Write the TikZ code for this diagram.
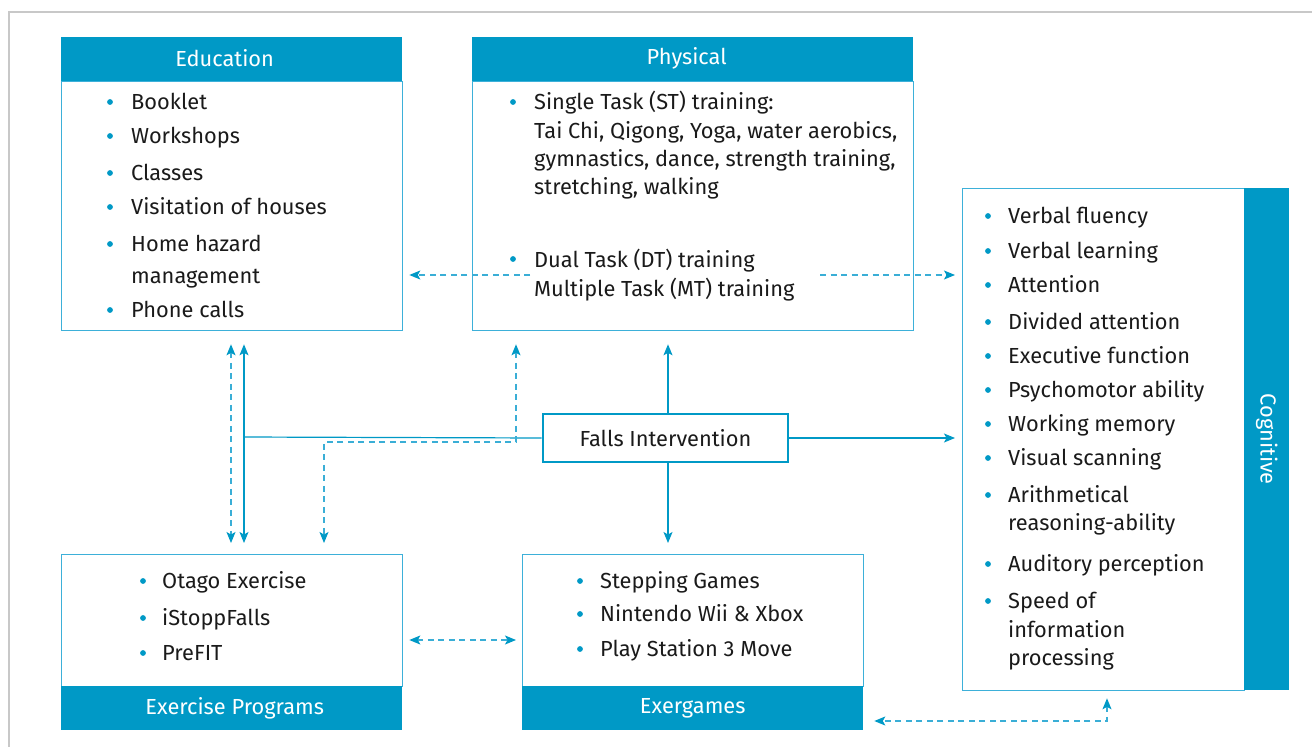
\documentclass[tikz,border=0pt]{standalone}
\usepackage{fontspec}
\setmainfont{Fira Sans}
\usetikzlibrary{arrows.meta,calc}
\definecolor{eublue}{HTML}{0099C6}
\definecolor{boxline}{HTML}{3DB0D9}
\definecolor{dashblue}{HTML}{3AAED6}
\definecolor{inktext}{HTML}{1A1A1A}
\definecolor{framegray}{HTML}{C8C8C8}
\newcommand\bul[2]{\fill[eublue] (#1,#2) circle (2.9pt);}
\begin{document}
\begin{tikzpicture}[x=1pt,y=-1pt,
  font=\fontsize{21.8}{26}\selectfont,
  >={Stealth[length=11pt,width=9pt,inset=2.5pt,color=eublue]},
  panel/.style={draw=boxline, line width=1.3pt, anchor=north west, inner sep=0pt, fill=white},
  head/.style={fill=eublue, anchor=north west, inner sep=0pt, text=white},
  item/.style={anchor=west, inner sep=0pt, text=inktext, text height=17pt, text depth=2pt},
  conn/.style={draw=eublue, line width=1.2pt},
  dconn/.style={draw=dashblue, line width=1.2pt, dash pattern=on 6pt off 4.5pt}]

\fill[white] (0,0) rectangle (1312,747);
\useasboundingbox (0,0) rectangle (1312,747);
\draw[framegray, line width=1.5pt] (9,747) -- (9,12) -- (1312,12);

% panels and their title bars
\node[head, minimum width=341pt, minimum height=44pt] (eduH) at (61,37) {};
\node[text=white, inner sep=0pt] (eduT) at ([xshift=-7pt,yshift=1pt]eduH.center) {Education};
\node[panel, minimum width=341pt, minimum height=249pt] (edu) at (61,81) {};
\node[head, minimum width=441pt, minimum height=44pt] (physH) at (472,37) {};
\node[text=white, inner sep=0pt] (physT) at ([xshift=-6pt,yshift=1pt]physH.center) {Physical};
\node[panel, minimum width=441pt, minimum height=249pt] (phys) at (472,81) {};
\node[panel, minimum width=282pt, minimum height=502pt] (cog) at (962,188) {};
\node[head, minimum width=45pt, minimum height=502pt] (cogH) at (1244,188) {};
\node[text=white, rotate=-90, inner sep=0pt] (cogT) at (cogH.center) {Cognitive};
\node[panel, minimum width=341pt, minimum height=132pt] (prog) at (61,554) {};
\node[head, minimum width=341pt, minimum height=44pt] (progH) at (61,686) {};
\node[text=white, inner sep=0pt] (progT) at ([xshift=3pt]progH.center) {Exercise Programs};
\node[panel, minimum width=341pt, minimum height=132pt] (exg) at (522,554) {};
\node[head, minimum width=341pt, minimum height=44pt] (exgH) at (522,686) {Exergames};
\node[draw=eublue, line width=2.8pt, minimum width=245pt, minimum height=48pt, inner sep=0pt,
      text=inktext] (falls) at (665.5,438) {Falls Intervention};

% Education
\bul{110}{102}\node[item] (e1) at (131,102) {Booklet};
\bul{110}{136}\node[item] (e2) at (131,136) {Workshops};
\bul{110}{173}\node[item] (e3) at (131,173) {Classes};
\bul{110}{207}\node[item] (e4) at (131,207) {Visitation of houses};
\bul{110}{244}\node[item] (e5) at (131,244) {Home hazard};
\node[item] (e5b) at (131,276) {management};
\bul{110}{310}\node[item] (e6) at (131,310) {Phone calls};

% Physical
\bul{513}{102}\node[item] (p1) at (534,102) {Single Task (ST) training:};
\node[item] (p1b) at (534,131) {Tai Chi, Qigong, Yoga, water aerobics,};
\node[item] (p1c) at (534,159) {gymnastics, dance, strength training,};
\node[item] (p1d) at (534,187) {stretching, walking};
\bul{513}{259}\node[item] (p2) at (534,260) {Dual Task (DT) training};
\node[item] (p2b) at (534,289) {Multiple Task (MT) training};

% Cognitive
\bul{988}{216}\node[item] (c1) at (1008,216) {Verbal fluency};
\bul{988}{251}\node[item] (c2) at (1008,251) {Verbal learning};
\bul{988}{285}\node[item] (c3) at (1008,285) {Attention};
\bul{988}{322}\node[item] (c4) at (1008,322) {Divided attention};
\bul{988}{356}\node[item] (c5) at (1008,356) {Executive function};
\bul{988}{390}\node[item] (c6) at (1008,390) {Psychomotor ability};
\bul{988}{424}\node[item] (c7) at (1008,424) {Working memory};
\bul{988}{458}\node[item] (c8) at (1008,458) {Visual scanning};
\bul{988}{495}\node[item] (c9) at (1008,495) {Arithmetical};
\node[item] (c9b) at (1008,523) {reasoning-ability};
\bul{988}{564}\node[item] (c10) at (1008,564) {Auditory perception};
\bul{988}{601}\node[item] (c11) at (1008,601) {Speed of};
\node[item] (c11b) at (1008,630) {information};
\node[item] (c11c) at (1008,658) {processing};

% Exercise programs
\bul{143}{581}\node[item] (x1) at (162,581) {Otago Exercise};
\bul{143}{618}\node[item] (x2) at (162,618) {iStoppFalls};
\bul{143}{653}\node[item] (x3) at (162,653) {PreFIT};

% Exergames
\bul{580}{581}\node[item] (g1) at (600,581) {Stepping Games};
\bul{580}{614}\node[item] (g2) at (600,614) {Nintendo Wii \& Xbox};
\bul{580}{649}\node[item] (g3) at (600,649) {Play Station 3 Move};

% connector anchors
\coordinate (jL) at (244,437);
\coordinate (dL) at (231,437);
\coordinate (kA) at (516,442);
\coordinate (kB) at (324,442);
\coordinate (dtL) at (530,275);
\coordinate (dtR) at (820,275);
\coordinate (bR) at (1107,721);

% solid connectors from the central node
\draw[conn, ->, shorten >=13pt] ([xshift=2.5pt]falls.north) -- ([xshift=2.5pt]falls.north |- phys.south);
\draw[conn, ->, shorten >=11pt] ([xshift=2.5pt]falls.south) -- ([xshift=2.5pt]falls.south |- exg.north);
\draw[conn, ->, shorten >=7pt] (falls.east) -- (falls.east -| cog.west);
\draw[conn] (falls.west) -- (jL);
\draw[conn, <->, shorten <=13pt, shorten >=11pt] (jL |- edu.south) -- (jL |- prog.north);

% dashed links
\draw[dconn, <->, shorten <=13pt, shorten >=11pt] (dL |- edu.south) -- (dL |- prog.north);
\draw[dconn, <->, shorten <=13pt, shorten >=11pt] (kA |- phys.south) -- (kA) -- (kB) -- (kB |- prog.north);
\draw[dconn, ->, shorten >=6pt] (dtL) -- (dtL -| edu.east);
\draw[dconn, ->, shorten >=7pt] (dtR) -- (dtR -| cog.west);
\draw[dconn, <->, shorten <=6pt, shorten >=6pt] (prog.east |- 0,640) -- (exg.west |- 0,640);
\draw[dconn, <->, shorten <=7pt, shorten >=10pt] (bR |- cog.south) -- (bR) -- (bR -| exg.east);
\end{tikzpicture}
\end{document}
